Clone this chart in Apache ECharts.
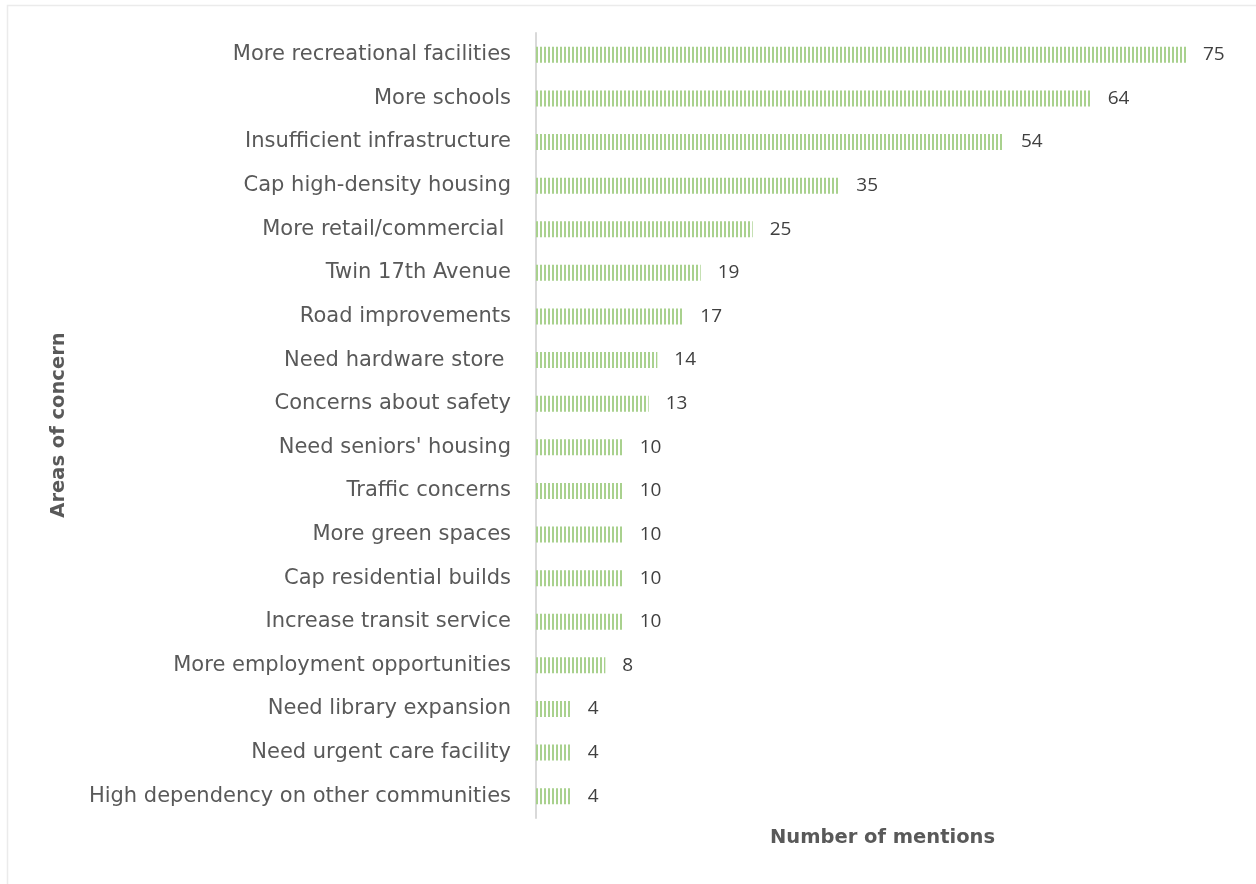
<!DOCTYPE html>
<html>
<head>
<meta charset="utf-8">
<script src="https://cdn.jsdelivr.net/npm/echarts@6/dist/echarts.min.js"></script>
<style>
html,body{margin:0;padding:0;background:#fff;}
#chart{width:1256px;height:884px;}
</style>
</head>
<body>
<div id="chart"></div>
<script>
const categories = [
  "More recreational facilities",
  "More schools",
  "Insufficient infrastructure",
  "Cap high-density housing",
  "More retail/commercial ",
  "Twin 17th Avenue",
  "Road improvements",
  "Need hardware store ",
  "Concerns about safety",
  "Need seniors' housing",
  "Traffic concerns",
  "More green spaces",
  "Cap residential builds",
  "Increase transit service",
  "More employment opportunities",
  "Need library expansion",
  "Need urgent care facility",
  "High dependency on other communities"
];
const mentions = [75, 64, 54, 35, 25, 19, 17, 14, 13, 10, 10, 10, 10, 10, 8, 4, 4, 4];
const xAxisTitle = "Number of mentions";
const yAxisTitle = "Areas of concern";

const pc = document.createElement('canvas');
pc.width = 4; pc.height = 4;
const g = pc.getContext('2d');
g.fillStyle = '#ffffff'; g.fillRect(0,0,4,4);
g.fillStyle = '#a9d18e'; g.fillRect(0,0,2,4);

const chart = echarts.init(document.getElementById('chart'), null, {renderer:'canvas'});
chart.setOption({
  backgroundColor: '#ffffff',
  animation: false,
  grid: {left: 536, right: 70, top: 33, bottom: 66, containLabel: false},
  xAxis: {
    type: 'value', min: 0, max: 75,
    show: true,
    axisLine: {show:false}, axisTick:{show:false}, axisLabel:{show:false}, splitLine:{show:false}
  },
  yAxis: {
    type: 'category', data: categories, inverse: true,
    axisLine: {show:true, lineStyle:{color:'#d9d9d9', width:2}},
    axisTick: {show:false},
    axisLabel: {margin: 25, color:'#595959', fontFamily:'DejaVu Sans', fontSize:21}
  },
  series: [{
    type: 'bar',
    data: mentions,
    barWidth: 16,
    itemStyle: {color: {image: pc, repeat: 'repeat'}},
    label: {show:true, position:'right', distance:17, color:'#404040', fontFamily:'Open Sans', fontSize:19}
  }],
  graphic: [
    {type:'rect', shape:{x:7.5, y:5.5, width:1260, height:900}, style:{fill:'none', stroke:'#ebebeb', lineWidth:1.5}, silent:true, z:-1},
    {type:'text', left: 770, top: 828, style:{text: xAxisTitle, fill:'#595959', font:'bold 19.5px "DejaVu Sans"'}},
    {type:'text', x: 59, y: 425, rotation: Math.PI/2, style:{text: yAxisTitle, fill:'#595959', font:'bold 19.5px "DejaVu Sans"', align:'center', verticalAlign:'middle'}}
  ]
});
</script>
</body>
</html>
